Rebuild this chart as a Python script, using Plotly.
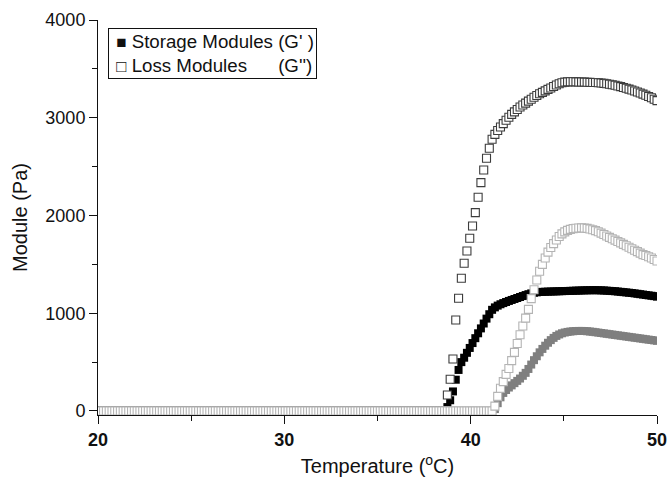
import numpy as np
import plotly.graph_objects as go

# Temperature sweep: one reading every 0.15 °C from 20 to 50 °C
temperature = np.round(20.0 + 0.15 * np.arange(201), 2)

# Sample A, loss modulus G'' (dark open squares): flat at 0 until the onset near 38.8 °C
loss_a_zero_count = 125
loss_a = [
    164, 324, 532, 931, 1153, 1358, 1511, 1637, 1767, 1893, 2029, 2186, 2336, 2465, 2585, 2688, 2780,
    2830, 2870, 2905, 2940, 2975, 3005, 3035, 3060, 3085, 3110, 3130,
    3150, 3170, 3190, 3210, 3228, 3245, 3260, 3275, 3290, 3305, 3320, 3335, 3348, 3358, 3364, 3367,
    3368, 3368, 3367, 3366, 3365, 3364, 3363, 3362, 3361, 3360, 3358, 3356, 3352, 3348, 3343, 3338,
    3332, 3325, 3318, 3310, 3302, 3293, 3284, 3274, 3264, 3253, 3242, 3230, 3218, 3205, 3190, 3175,
]

# Sample A, storage modulus G' (black filled squares) from the onset
storage_a = [
    40, 110, 200, 320, 420, 500, 545, 595, 645, 695, 745, 795, 845, 895, 945, 990, 1035,
    1060, 1078, 1092, 1104, 1115, 1126, 1136, 1146, 1156, 1166, 1176,
    1186, 1195, 1203, 1210, 1214, 1217, 1219, 1220, 1221, 1222, 1223, 1224, 1225, 1226, 1227, 1228,
    1229, 1230, 1231, 1232, 1233, 1234, 1235, 1235, 1236, 1236, 1235, 1234, 1233, 1231, 1229, 1227,
    1225, 1222, 1219, 1216, 1213, 1210, 1207, 1203, 1199, 1195, 1191, 1187, 1183, 1179, 1175, 1170,
]

# Sample B, loss modulus G'' (light open squares): flat at 0 until about 41.3 °C
loss_b_zero_count = 142
loss_b = [
    50, 150, 232, 300, 375, 435, 515, 600, 690, 780, 870,
    950, 1040, 1150, 1240, 1340, 1430, 1500, 1565, 1625, 1672, 1712, 1750, 1785, 1812, 1832, 1848,
    1858, 1866, 1870, 1872, 1873, 1872, 1868, 1862, 1854, 1845, 1833, 1820, 1805, 1790, 1776, 1762,
    1748, 1734, 1720, 1705, 1690, 1675, 1660, 1645, 1630, 1615, 1600, 1590, 1578, 1565, 1550, 1535,
]

# Sample B, storage modulus G' (grey filled squares) from the onset
storage_b = [
    20, 80, 140, 185, 215, 240, 262, 285, 308, 332, 360,
    390, 430, 475, 520, 560, 600, 635, 668, 698, 725, 748, 768, 783, 795, 803, 809,
    813, 816, 818, 819, 819, 818, 816, 813, 810, 806, 802, 798, 794, 790, 786, 782,
    778, 774, 770, 766, 762, 758, 754, 750, 746, 742, 738, 734, 730, 726, 722, 718,
]

legend_labels = ["Storage Modules (G' )", "Loss Modules" + "\u00a0" * 6 + "(G'')"]
legend_symbols = ["\u25a0", "\u25a1"]
y_ticks = [0, 1000, 2000, 3000, 4000]
x_ticks = [20, 30, 40, 50]

FONT = "Liberation Sans, Arial, sans-serif"
INK = "#111111"


def tail(values):
    """Temperatures for a series whose readings end at the last step."""
    return temperature[len(temperature) - len(values):]


fig = go.Figure()

# filled squares first so the open squares sit on top
fig.add_trace(go.Scatter(
    x=tail(storage_a), y=storage_a, mode="markers", name="G' A",
    marker=dict(symbol="square", size=8, color="#000000", line=dict(width=0)),
))
fig.add_trace(go.Scatter(
    x=tail(storage_b), y=storage_b, mode="markers", name="G' B",
    marker=dict(symbol="square", size=8, color="#7f7f7f", line=dict(width=0)),
))

loss_a_full = [0] * loss_a_zero_count + loss_a
loss_b_full = [0] * loss_b_zero_count + loss_b

fig.add_trace(go.Scatter(
    x=tail(loss_a_full), y=loss_a_full, mode="markers", name="G'' A",
    marker=dict(symbol="square", size=8, color="#ffffff", line=dict(width=1.1, color="#3c3c3c")),
))
fig.add_trace(go.Scatter(
    x=tail(loss_b_full), y=loss_b_full, mode="markers", name="G'' B",
    marker=dict(symbol="square", size=8, color="#ffffff", line=dict(width=1.1, color="#b4b4b4")),
))

# boxed key in the upper-left corner
legend_text = "<br>".join(
    f"\u00a0<span style='font-size:17px'>{sym}</span>\u00a0{lab}"
    for sym, lab in zip(legend_symbols, legend_labels)
)
fig.add_annotation(
    xref="paper", yref="paper", x=0.0179, y=0.9797, xanchor="left", yanchor="top",
    text=legend_text, showarrow=False, align="left",
    font=dict(family=FONT, size=18.7, color=INK),
    bgcolor="white", bordercolor=INK, borderwidth=1, borderpad=2,
)

fig.update_layout(
    width=672, height=479,
    margin=dict(l=98, r=15, t=20, b=64, autoexpand=False),
    paper_bgcolor="white", plot_bgcolor="white",
    font=dict(family=FONT, size=18, color=INK),
    showlegend=False,
)

fig.update_xaxes(
    range=[20, 50], tickvals=x_ticks, ticktext=[str(v) for v in x_ticks],
    tickfont=dict(family=FONT, size=18, weight="bold", color=INK),
    ticks="outside", ticklen=8, tickwidth=1, tickcolor=INK,
    minor=dict(tickvals=[25, 35, 45], ticks="outside", ticklen=5, tickwidth=1, tickcolor=INK),
    showline=True, linecolor=INK, linewidth=1, showgrid=False, zeroline=False,
    automargin=False,
    title=dict(text="Temperature (<sup>o</sup>C)", font=dict(family=FONT, size=20), standoff=10),
)
fig.update_yaxes(
    range=[-41, 4000], tickvals=y_ticks,
    tickfont=dict(family=FONT, size=18, color=INK),
    ticks="outside", ticklen=8, tickwidth=1, tickcolor=INK,
    minor=dict(tickvals=[500, 1500, 2500, 3500], ticks="outside", ticklen=5, tickwidth=1, tickcolor=INK),
    showline=True, linecolor=INK, linewidth=1, showgrid=False, zeroline=False,
    automargin=False,
    title=dict(text="Module (Pa)", font=dict(family=FONT, size=20), standoff=12),
)

fig.write_html("out.html")
